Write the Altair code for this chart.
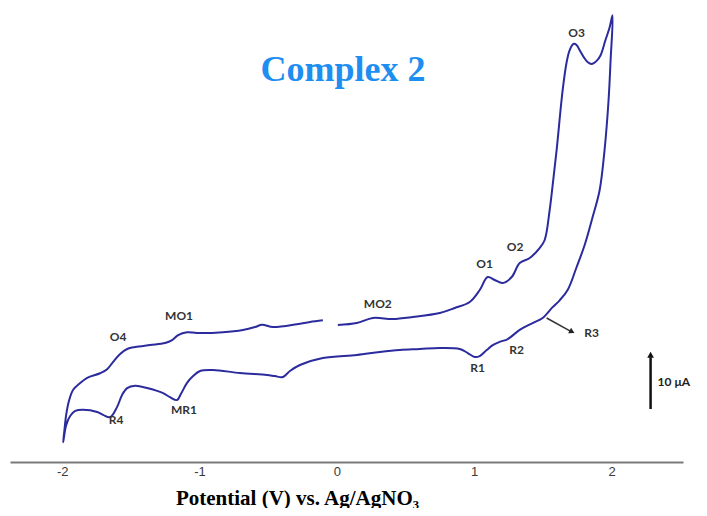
import altair as alt
import pandas as pd

# Cyclic voltammogram path (potential in V, current in µA), in scan order
potential = [
    0.007, 0.145, 0.262, 0.407, 0.553, 0.749, 0.858, 0.967, 1.040, 1.098,
    1.149, 1.207, 1.273, 1.331, 1.404, 1.476, 1.513, 1.549, 1.571, 1.600,
    1.644, 1.673, 1.695, 1.724, 1.745, 1.767, 1.796, 1.825, 1.855, 1.891,
    1.920, 1.956, 1.985, 2.007,
    1.993, 1.978, 1.949, 1.913, 1.862, 1.804, 1.745, 1.680, 1.622, 1.571,
    1.498, 1.425, 1.331, 1.244, 1.185, 1.135, 1.091, 1.040, 1.004, 0.953,
    0.895, 0.749, 0.604, 0.458, 0.313, 0.145, -0.102, -0.269, -0.342, -0.393,
    -0.451, -0.509, -0.705, -0.902, -0.996, -1.047, -1.091, -1.135, -1.164, -1.215,
    -1.265, -1.382, -1.469, -1.527, -1.564, -1.600, -1.651, -1.702, -1.745, -1.847,
    -1.905, -1.942, -1.971, -1.993,
    -1.985, -1.971, -1.949, -1.920, -1.869, -1.818, -1.724, -1.673, -1.629, -1.578,
    -1.527, -1.469, -1.360, -1.251, -1.200, -1.156, -1.091, -1.018, -0.829, -0.684,
    -0.596, -0.545, -0.465, -0.291, -0.196, -0.102,
]
current = [
    5.26, 5.61, 6.49, 6.32, 6.67, 7.37, 8.25, 9.30, 11.40, 13.68,
    13.16, 12.63, 13.68, 16.14, 17.02, 18.77, 20.18, 25.40, 29.80, 36.00,
    46.50, 51.40, 53.50, 54.60, 54.40, 53.50, 52.30, 51.40, 51.05, 51.60,
    52.60, 55.30, 57.40, 59.60,
    51.80, 44.70, 36.00, 28.90, 24.20, 19.30, 15.40, 11.40, 9.60, 8.40,
    6.50, 5.60, 4.40, 2.80, 2.30, 1.75, 0.88, -0.18, -0.35, 0.35,
    1.05, 1.23, 1.05, 0.88, 0.53, 0.00, -0.53, -1.75, -2.80, -3.86,
    -3.70, -3.50, -3.16, -2.63, -2.80, -3.70, -4.90, -6.80, -7.90, -7.40,
    -6.70, -5.80, -5.40, -5.80, -7.00, -9.10, -10.90, -10.50, -10.00, -9.60,
    -9.80, -10.70, -12.30, -15.30,
    -13.50, -10.50, -7.90, -6.10, -4.90, -4.00, -3.20, -2.50, -1.20, 0.18,
    1.05, 1.40, 1.75, 2.10, 2.60, 3.50, 4.00, 3.86, 4.00, 4.40,
    4.90, 5.30, 4.90, 5.40, 5.80, 6.10,
]

# Peak labels
label_text = ["O4", "MO1", "MO2", "O1", "O2", "O3", "R1", "R2", "R3", "R4", "MR1"]
label_v = [-1.593, -1.149, 0.298, 1.076, 1.298, 1.745, 1.025, 1.309, 1.855, -1.607, -1.113]
label_i = [3.16, 6.84, 8.95, 15.96, 18.95, 56.49, -2.28, 0.88, 3.86, -11.40, -9.65]

# R3 pointer arrow (start / end)
r3_arrow_v = [1.527, 1.700]
r3_arrow_i = [6.49, 4.20]
r3_head = [1.712, 4.08]

# 10 µA scale bar
bar_v = 2.284
bar_i = [-9.47, -0.40]
bar_head_i = 0.05
bar_label = "10 μA"
bar_label_v = 2.335
bar_label_i = -4.74

title_text = "Complex 2"
title_v, title_i = 0.044, 50.0

x_ticks = [-2, -1, 0, 1, 2]
x_domain = [-2.38, 2.52]
y_domain = [-18.77, 60.88]

curve_color = "#2b2b9e"
text_color = "#333333"

cv = pd.DataFrame({"V": potential, "I": current, "order": list(range(len(potential)))})
labels = pd.DataFrame({"V": label_v, "I": label_i, "text": label_text})

xs = alt.Scale(domain=x_domain, nice=False, zero=False)
ys = alt.Scale(domain=y_domain, nice=False, zero=False)

x_axis = alt.Axis(
    values=x_ticks, ticks=False, grid=False, domainColor="#7a7a7a", domainWidth=2,
    labelExpr="datum.value + ''", labelFont="Liberation Sans", labelFontSize=13,
    labelColor="#3a3a3a", labelPadding=3,
    title="Potential (V) vs. Ag/AgNO₃", titleFont="Liberation Serif", titleFontSize=21,
    titleFontWeight="bold", titleColor="#000000", titleX=287, titleY=42,
    titleAlign="center", titleBaseline="alphabetic",
)

line = alt.Chart(cv).mark_line(color=curve_color, strokeWidth=2, interpolate="catmull-rom").encode(
    x=alt.X("V:Q", scale=xs, axis=x_axis),
    y=alt.Y("I:Q", scale=ys, axis=None),
    order="order:Q",
)

peak_text = alt.Chart(labels).mark_text(
    font="Lato", fontWeight="bold", fontSize=12, color=text_color
).encode(x=alt.X("V:Q", scale=xs), y=alt.Y("I:Q", scale=ys), text="text:N")

arrow_df = pd.DataFrame({"V": [r3_arrow_v[0]], "I": [r3_arrow_i[0]], "V2": [r3_arrow_v[1]], "I2": [r3_arrow_i[1]]})
r3_line = alt.Chart(arrow_df).mark_rule(color="#333333", strokeWidth=1.5).encode(
    x=alt.X("V:Q", scale=xs), y=alt.Y("I:Q", scale=ys), x2="V2:Q", y2="I2:Q"
)
r3_tip = alt.Chart(pd.DataFrame({"V": [r3_head[0]], "I": [r3_head[1]]})).mark_point(
    shape="triangle-right", angle=28, size=40, filled=True, color="#222222", opacity=1
).encode(x=alt.X("V:Q", scale=xs), y=alt.Y("I:Q", scale=ys))

bar_df = pd.DataFrame({"V": [bar_v], "I": [bar_i[0]], "I2": [bar_i[1]]})
bar_line = alt.Chart(bar_df).mark_rule(color="#111111", strokeWidth=2.5).encode(
    x=alt.X("V:Q", scale=xs), y=alt.Y("I:Q", scale=ys), y2="I2:Q"
)
bar_tip = alt.Chart(pd.DataFrame({"V": [bar_v], "I": [bar_head_i]})).mark_point(
    shape="triangle-up", size=45, filled=True, color="#111111", opacity=1
).encode(x=alt.X("V:Q", scale=xs), y=alt.Y("I:Q", scale=ys))
bar_text = alt.Chart(pd.DataFrame({"V": [bar_label_v], "I": [bar_label_i], "t": [bar_label]})).mark_text(
    font="Lato", fontWeight="bold", fontSize=12, color="#222222", align="left"
).encode(x=alt.X("V:Q", scale=xs), y=alt.Y("I:Q", scale=ys), text="t:N")

title = alt.Chart(pd.DataFrame({"V": [title_v], "I": [title_i], "t": [title_text]})).mark_text(
    font="Liberation Serif", fontWeight="bold", fontSize=36, color="#1f8ef1"
).encode(x=alt.X("V:Q", scale=xs), y=alt.Y("I:Q", scale=ys), text="t:N")

chart = alt.layer(
    line, peak_text, r3_line, r3_tip, bar_line, bar_tip, bar_text, title
).properties(
    width=673, height=454,
    padding={"left": 2, "top": 0, "right": 0, "bottom": 0},
).configure(background="white").configure_view(stroke=None, strokeWidth=0)

chart.save("out.html", embed_options={"renderer": "svg", "actions": False})
